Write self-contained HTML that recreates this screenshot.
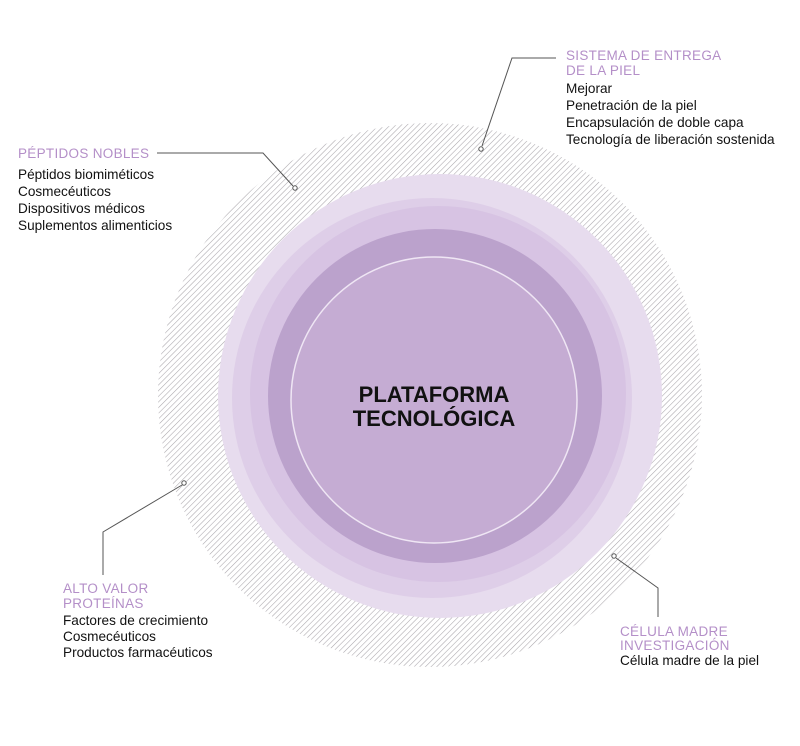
<!DOCTYPE html>
<html><head><meta charset="utf-8"><style>
html,body{margin:0;padding:0;background:#fff;}
body{width:800px;height:741px;overflow:hidden;}
text{font-family:"Liberation Sans",sans-serif;}
.t{fill:#b48fc8;font-size:13.5px;letter-spacing:0.3px;}
.b{fill:#111;font-size:13.6px;}
</style></head><body>
<svg width="800" height="741" viewBox="0 0 800 741" xmlns="http://www.w3.org/2000/svg">
<defs>
<pattern id="h" patternUnits="userSpaceOnUse" width="4" height="4" patternTransform="rotate(45)">
<rect width="4" height="4" fill="#fff"/>
<line x1="0" y1="0" x2="0" y2="4" stroke="#aaa6ac" stroke-width="1.1"/>
</pattern>
</defs>
<circle cx="430" cy="395" r="272" fill="url(#h)"/>
<circle cx="440" cy="396" r="222" fill="#e7dcee"/>
<circle cx="432" cy="398" r="200" fill="#dccbe6" opacity="0.8"/>
<circle cx="438" cy="394" r="188" fill="#d5c1e1" opacity="0.8"/>
<circle cx="435" cy="396" r="167" fill="#bba2cc"/>
<circle cx="434" cy="400" r="143" fill="#c5acd3" stroke="#efe6f4" stroke-width="1.5"/>
<text x="434" y="402" text-anchor="middle" font-weight="bold" font-size="22" fill="#111">PLATAFORMA</text>
<text x="434" y="426" text-anchor="middle" font-weight="bold" font-size="22" fill="#111">TECNOLÓGICA</text>

<g fill="none" stroke="#555" stroke-width="1">
<polyline points="157,153 263,153 293,186"/>
<polyline points="556,58 512,58 482,146"/>
<polyline points="103,575 103,532 182,485"/>
<polyline points="616,558 658,588 658,617"/>
</g>
<g fill="#fff" stroke="#555" stroke-width="1">
<circle cx="295" cy="188" r="2.2"/>
<circle cx="481" cy="149" r="2.2"/>
<circle cx="184" cy="483" r="2.2"/>
<circle cx="614" cy="556" r="2.2"/>
</g>

<text class="t" x="18" y="158">PÉPTIDOS NOBLES</text>
<text class="b" x="18" y="179">Péptidos biomiméticos</text>
<text class="b" x="18" y="196">Cosmecéuticos</text>
<text class="b" x="18" y="213">Dispositivos médicos</text>
<text class="b" x="18" y="230">Suplementos alimenticios</text>

<text class="t" x="566" y="60">SISTEMA DE ENTREGA</text>
<text class="t" x="566" y="75">DE LA PIEL</text>
<text class="b" x="566" y="93">Mejorar</text>
<text class="b" x="566" y="110">Penetración de la piel</text>
<text class="b" x="566" y="127">Encapsulación de doble capa</text>
<text class="b" x="566" y="144">Tecnología de liberación sostenida</text>

<text class="t" x="63" y="593">ALTO VALOR</text>
<text class="t" x="63" y="608">PROTEÍNAS</text>
<text class="b" x="63" y="625">Factores de crecimiento</text>
<text class="b" x="63" y="641">Cosmecéuticos</text>
<text class="b" x="63" y="657">Productos farmacéuticos</text>

<text class="t" x="620" y="636">CÉLULA MADRE</text>
<text class="t" x="620" y="650">INVESTIGACIÓN</text>
<text class="b" x="620" y="665">Célula madre de la piel</text>
</svg>
</body></html>
